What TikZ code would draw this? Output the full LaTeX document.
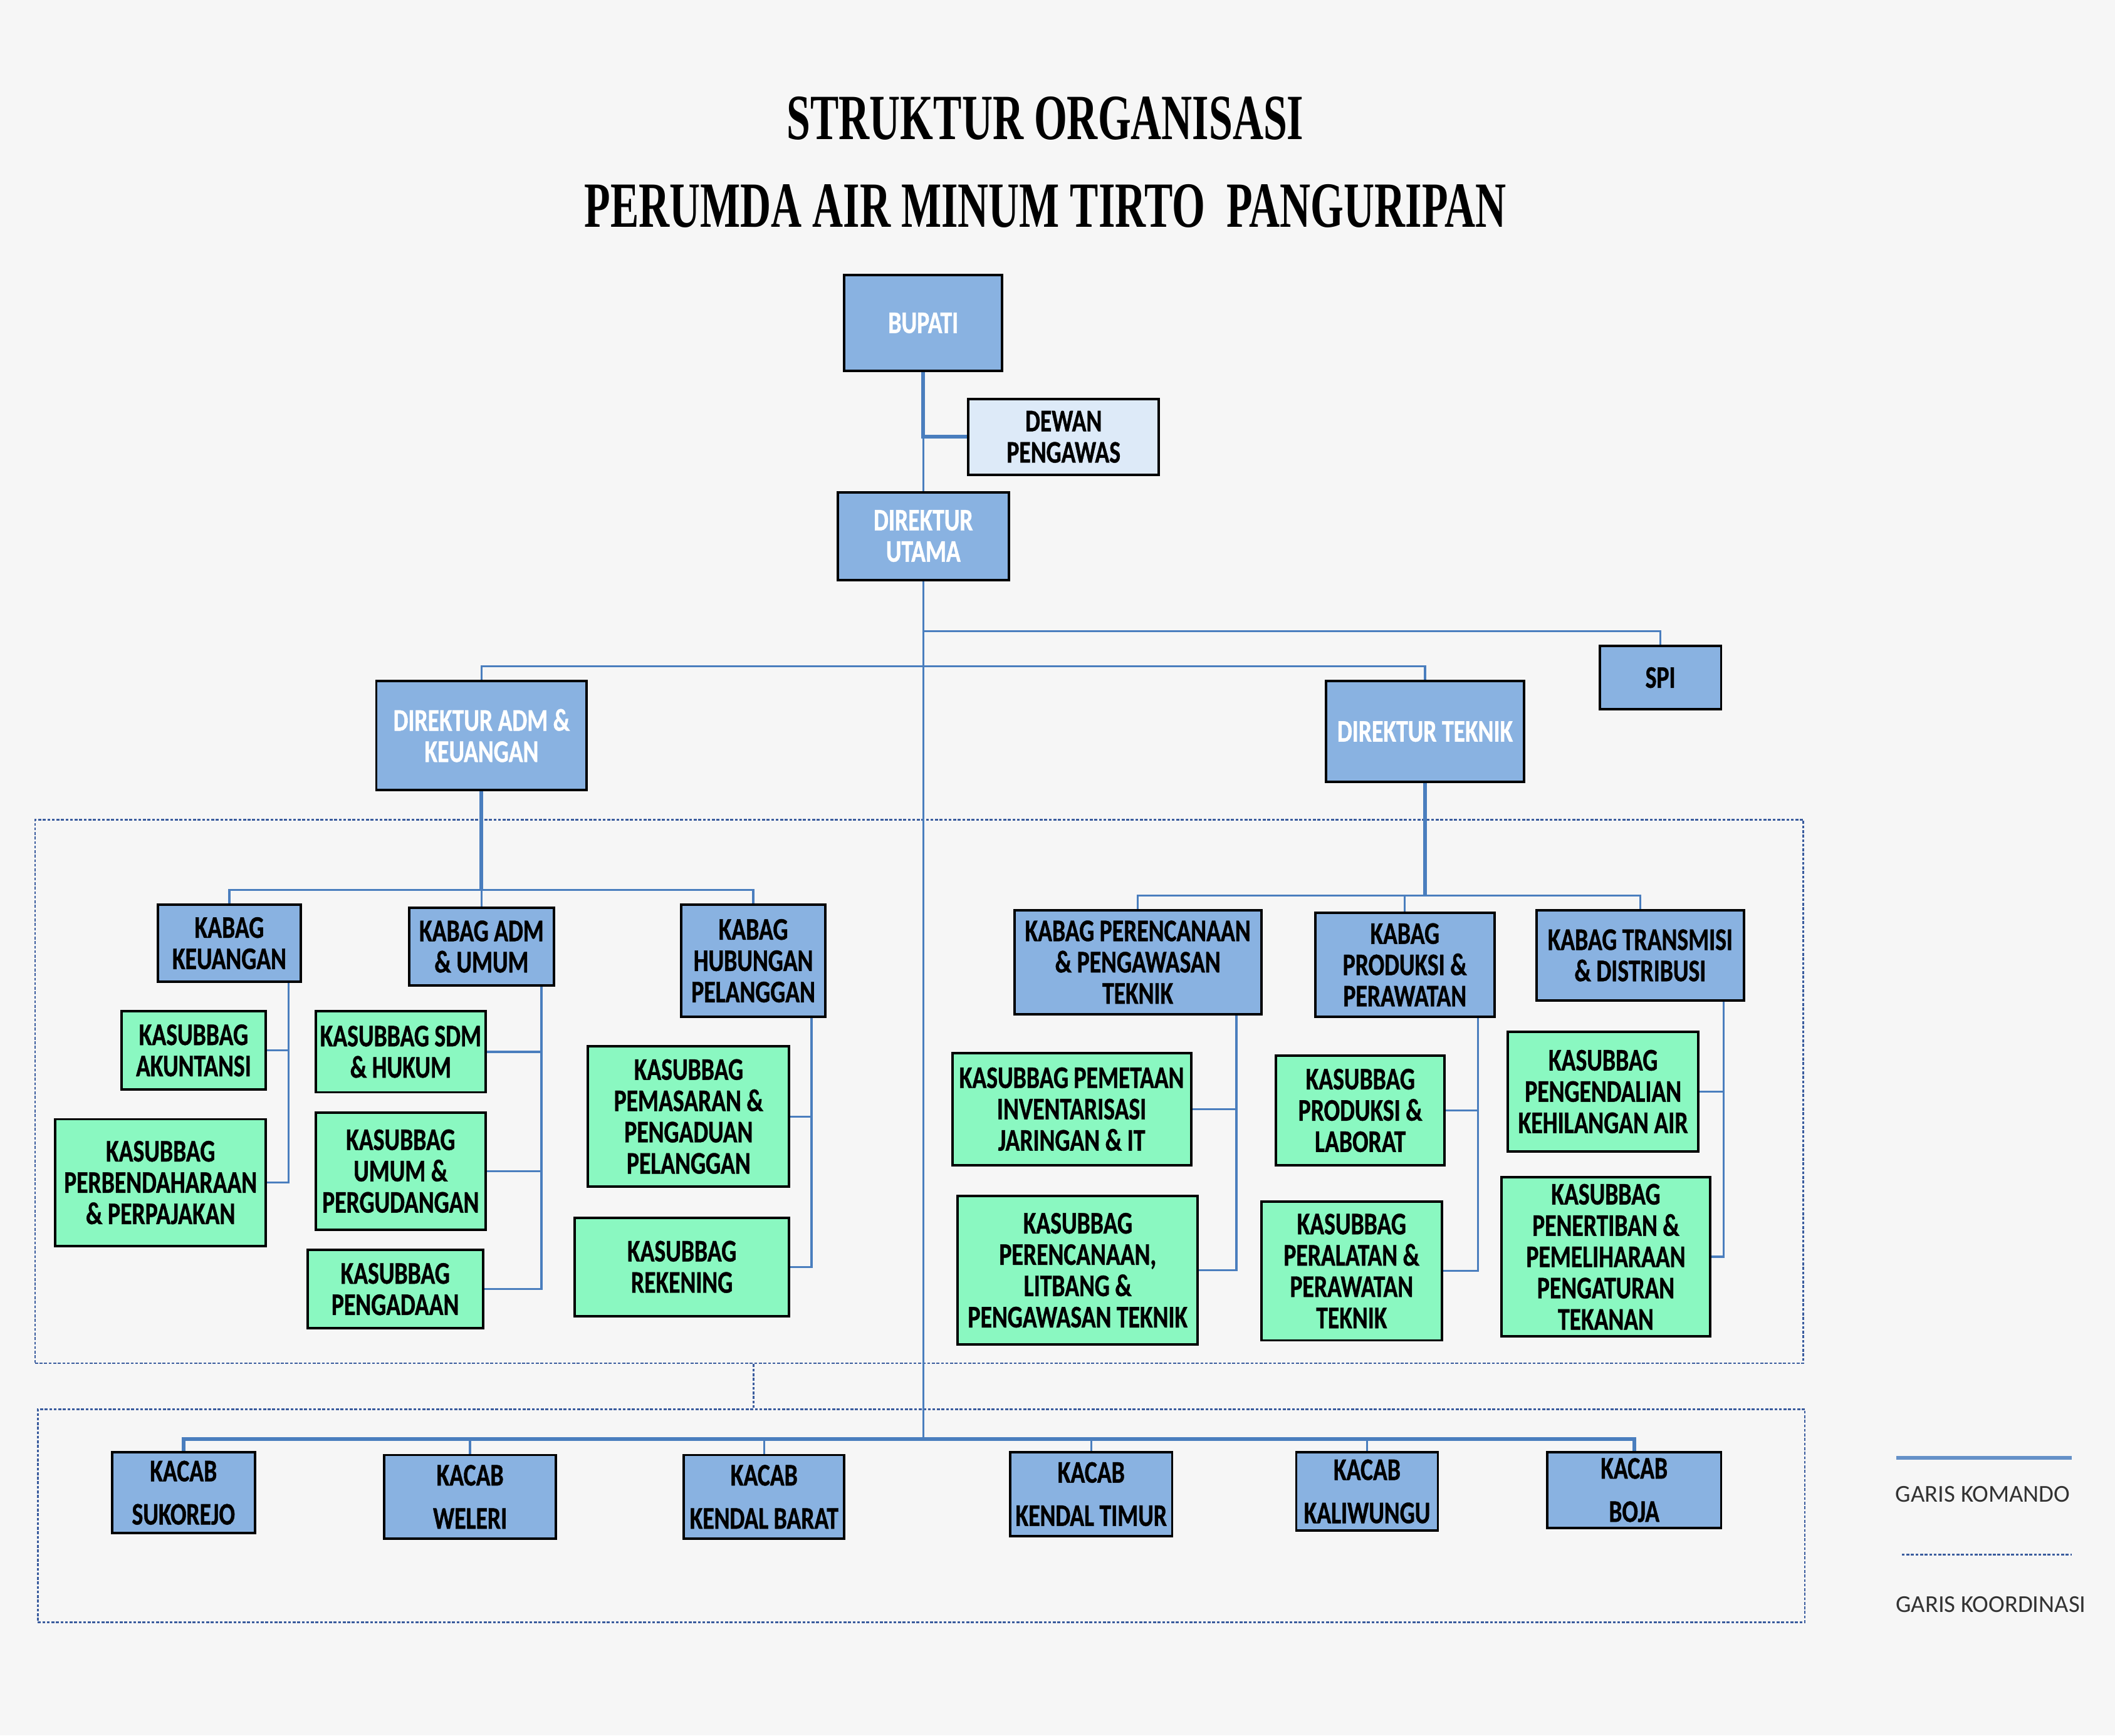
\documentclass[tikz,border=0pt]{standalone}
\usepackage{fontspec}
\usepackage{graphicx}
\setmainfont{Carlito}
\newfontfamily\boxfont{Carlito}[FakeStretch=0.75, FakeBold=0.8]
\newfontfamily\titlefont{Liberation Serif}
\definecolor{kbiru}{RGB}{137,178,225}
\definecolor{khijau}{RGB}{138,248,193}
\definecolor{kmuda}{RGB}{221,234,248}
\definecolor{garis}{RGB}{74,126,190}
\definecolor{kdash}{RGB}{58,92,158}
\definecolor{latar}{RGB}{246,246,246}

\begin{document}
\begin{tikzpicture}[x=0.025cm,y=-0.025cm,
	kotak/.style={draw=black, line width=1.3pt, align=center, inner sep=1pt, font=\boxfont\bfseries\fontsize{16.6}{16.5}\selectfont},
	biru/.style={kotak, fill=kbiru},
	hijau/.style={kotak, fill=khijau},
	putih/.style={text=white},
	kacab/.style={biru, font=\boxfont\bfseries\fontsize{16.6}{22.8}\selectfont},
	sz/.style 2 args={minimum width=#1*0.025cm, minimum height=#2*0.025cm},
	cmd/.style={draw=garis, line width=1.1pt},
	tebal/.style={draw=garis, line width=2pt},
	koord/.style={draw=kdash, line width=0.9pt, dash pattern=on 1.5pt off 0.9pt}]
	\fill[latar] (0,0) rectangle (1568,1287);
	\useasboundingbox (0,0) rectangle (1568,1287);

	\node[font=\titlefont\bfseries\fontsize{34}{36}\selectfont] (judul1) at (775,88) {\scalebox{0.66}[1]{STRUKTUR ORGANISASI}};
	\node[font=\titlefont\bfseries\fontsize{34}{36}\selectfont] (judul2) at (775,153) {\scalebox{0.66}[1]{PERUMDA AIR MINUM TIRTO\ \ PANGURIPAN}};

	\node[koord, sz={1311}{403}] (grupA) at (681.5,809.5) {};
	\node[koord, sz={1310}{158}] (grupB) at (683,1124) {};

	\node[biru, putih, sz={117}{71}] (bupati) at (684.5,239.5) {BUPATI};
	\node[kotak, fill=kmuda, sz={141}{56}] (dewan) at (788.5,324) {DEWAN\\PENGAWAS};
	\node[biru, putih, sz={127}{65}] (dirut) at (684.5,397.5) {DIREKTUR\\UTAMA};
	\node[biru, sz={90}{47}] (spi) at (1231,502.5) {SPI};
	\node[biru, putih, sz={156}{81}] (diradm) at (357,545.5) {DIREKTUR ADM \&\\KEUANGAN};
	\node[biru, putih, sz={147}{75}] (dirtek) at (1056.5,542.5) {DIREKTUR TEKNIK};

	\node[biru, sz={106}{57}] (kbkeu) at (170,699.5) {KABAG\\KEUANGAN};
	\node[biru, sz={107}{58}] (kbadm) at (357,702) {KABAG ADM\\\& UMUM};
	\node[biru, sz={107}{83}] (kbhub) at (558.5,712.5) {KABAG\\HUBUNGAN\\PELANGGAN};
	\node[hijau, sz={107}{58}] (kasakun) at (143.5,779) {KASUBBAG\\AKUNTANSI};
	\node[hijau, sz={156}{94}] (kasperb) at (119,877) {KASUBBAG\\PERBENDAHARAAN\\\& PERPAJAKAN};
	\node[hijau, sz={126}{60}] (kassdm) at (297,780) {KASUBBAG SDM\\\& HUKUM};
	\node[hijau, sz={126}{87}] (kasumum) at (297,868.5) {KASUBBAG\\UMUM \&\\PERGUDANGAN};
	\node[hijau, sz={130}{58}] (kaspeng) at (293,956) {KASUBBAG\\PENGADAAN};
	\node[hijau, sz={149}{104}] (kaspem) at (510.5,828) {KASUBBAG\\PEMASARAN \&\\PENGADUAN\\PELANGGAN};
	\node[hijau, sz={159}{73}] (kasrek) at (505.5,939.5) {KASUBBAG\\REKENING};

	\node[biru, sz={183}{77}] (kbren) at (843.5,713.5) {KABAG PERENCANAAN\\\& PENGAWASAN\\TEKNIK};
	\node[biru, sz={133}{77}] (kbprod) at (1041.5,715.5) {KABAG\\PRODUKSI \&\\PERAWATAN};
	\node[biru, sz={154}{67}] (kbtrans) at (1216,708.5) {KABAG TRANSMISI\\\& DISTRIBUSI};
	\node[hijau, sz={177}{83}] (kasjar) at (794.5,822.5) {KASUBBAG PEMETAAN\\INVENTARISASI\\JARINGAN \& IT};
	\node[hijau, sz={178}{110}] (kaslit) at (799,942) {KASUBBAG\\PERENCANAAN,\\LITBANG \&\\PENGAWASAN TEKNIK};
	\node[hijau, sz={125}{81}] (kaslab) at (1008.5,823.5) {KASUBBAG\\PRODUKSI \&\\LABORAT};
	\node[hijau, sz={134}{103}] (kasalat) at (1002,942.5) {KASUBBAG\\PERALATAN \&\\PERAWATAN\\TEKNIK};
	\node[hijau, sz={141}{89}] (kasair) at (1188.5,809.5) {KASUBBAG\\PENGENDALIAN\\KEHILANGAN AIR};
	\node[hijau, sz={155}{118}] (kastek) at (1190.5,932) {KASUBBAG\\PENERTIBAN \&\\PEMELIHARAAN\\PENGATURAN\\TEKANAN};

	\node[kacab, sz={106}{60}] (kc1) at (136,1107) {KACAB\\SUKOREJO};
	\node[kacab, sz={127}{62}] (kc2) at (348.5,1110) {KACAB\\WELERI};
	\node[kacab, sz={119}{62}] (kc3) at (566.5,1110) {KACAB\\KENDAL BARAT};
	\node[kacab, sz={120}{62}] (kc4) at (809,1108) {KACAB\\KENDAL TIMUR};
	\node[kacab, sz={105}{58}] (kc5) at (1013.5,1106) {KACAB\\KALIWUNGU};
	\node[kacab, sz={129}{56}] (kc6) at (1211.5,1105) {KACAB\\BOJA};

	\coordinate (spibus) at (684.5,468);
	\coordinate (dirbus) at (684.5,494);
	\coordinate (admbus) at (357,660);
	\coordinate (tekbus) at (1056.5,664);
	\coordinate (kacabbus) at (684.5,1067);

	\draw[tebal] (bupati.south) -- (bupati.south |- dewan.west) -- (dewan.west);
	\draw[cmd] (bupati.south |- dewan.west) -- (dirut.north);
	\draw[cmd] (dirut.south) -- (kacabbus);
	\draw[cmd] (spibus) -| (spi.north);
	\draw[cmd] (diradm.north) |- (dirbus) -| (dirtek.north);

	\draw[tebal] (diradm.south) -- (admbus);
	\draw[cmd] (kbkeu.north) |- (admbus) -| (kbhub.north);
	\draw[cmd] (admbus) -- (kbadm.north);
	\draw[cmd] ([xshift=-0.25cm]kbkeu.south east) |- (kasperb.east);
	\draw[cmd] (kasakun.east) -| ([xshift=-0.25cm]kbkeu.south east);
	\draw[cmd] ([xshift=-0.25cm]kbadm.south east) |- (kaspeng.east);
	\draw[cmd] (kassdm.east) -| ([xshift=-0.25cm]kbadm.south east);
	\draw[cmd] (kasumum.east) -| ([xshift=-0.25cm]kbadm.south east);
	\draw[cmd] ([xshift=-0.28cm]kbhub.south east) |- (kasrek.east);
	\draw[cmd] (kaspem.east) -| ([xshift=-0.28cm]kbhub.south east);

	\draw[tebal] (dirtek.south) -- (tekbus);
	\draw[cmd] (kbren.north) |- (tekbus) -| (kbtrans.north);
	\draw[cmd] (kbprod.north) -- (kbprod.north |- tekbus);
	\draw[cmd] ([xshift=-0.48cm]kbren.south east) |- (kaslit.east);
	\draw[cmd] (kasjar.east) -| ([xshift=-0.48cm]kbren.south east);
	\draw[cmd] ([xshift=-0.33cm]kbprod.south east) |- (kasalat.east);
	\draw[cmd] (kaslab.east) -| ([xshift=-0.33cm]kbprod.south east);
	\draw[cmd] ([xshift=-0.4cm]kbtrans.south east) |- (kastek.east);
	\draw[cmd] (kasair.east) -| ([xshift=-0.4cm]kbtrans.south east);

	\draw[tebal] (kc1.north) |- (kacabbus) -| (kc6.north);
	\foreach \k in {kc2,kc3,kc4,kc5}
		\draw[cmd] (\k.north) -- (\k.north |- kacabbus);

	\draw[koord] (grupA.south -| kbhub.south) -- (grupB.north -| kbhub.south);

	\draw[tebal, draw=garis!85] (1406,1081) -- (1536,1081);
	\node[font=\fontsize{12.8}{14}\selectfont, text=black!80] (lgkom) at (1470,1108) {GARIS KOMANDO};
	\draw[koord] (1410,1153) -- (1536,1153);
	\node[font=\fontsize{12.8}{14}\selectfont, text=black!80] (lgkoor) at (1476,1190) {GARIS KOORDINASI};
\end{tikzpicture}
\end{document}
